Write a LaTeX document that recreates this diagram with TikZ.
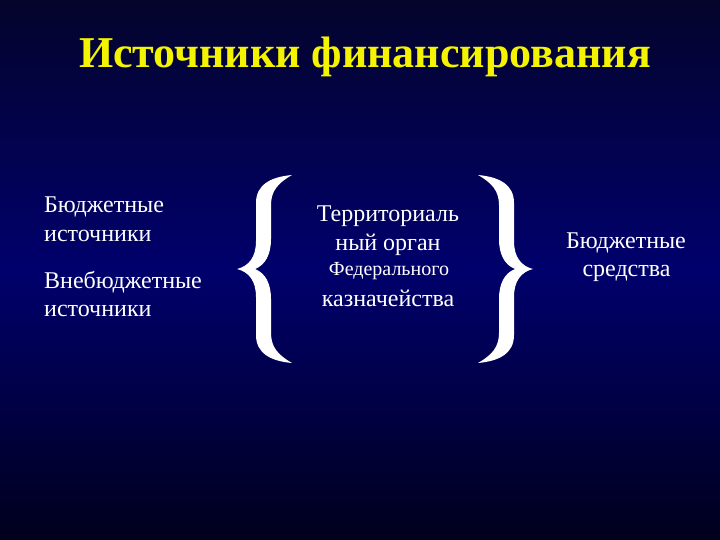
\documentclass[tikz,border=0pt]{standalone}
\usepackage{fontspec}
\setmainfont{Liberation Serif}
\usetikzlibrary{positioning}

\definecolor{bgtop}{HTML}{04042C}
\definecolor{bgmid}{HTML}{00006C}
\definecolor{bgbot}{HTML}{00001C}
\definecolor{titleyellow}{HTML}{F4F400}

% one curly brace, middle tip at the origin, opening to the right
\newcommand{\bracepath}{%
  (55,94) .. controls (33,92) and (19,84) .. (19,66)
  -- (19,28) .. controls (19,12) and (12,3) .. (0,0)
  .. controls (12,-3) and (19,-12) .. (19,-28)
  -- (19,-66) .. controls (19,-84) and (33,-92) .. (55,-94)
  .. controls (41,-86) and (34,-78) .. (34,-64)
  -- (34,-30) .. controls (34,-14) and (28,-4) .. (18,0)
  .. controls (28,4) and (34,14) .. (34,30)
  -- (34,64) .. controls (34,78) and (41,86) .. (55,94) -- cycle}

\begin{document}
\begin{tikzpicture}[x=1pt,y=-1pt,
  title/.style={font=\fontsize{44}{50}\selectfont\bfseries,text=titleyellow,inner sep=0pt,anchor=base},
  txt/.style={font=\fontsize{24}{28}\selectfont,text=white,inner sep=0pt,anchor=base},
  small txt/.style={txt,font=\fontsize{20}{24}\selectfont},
  brace/.style={fill=white,draw=none}]

\begin{scope}[y=1pt]
  \shade[top color=bgtop,bottom color=bgbot,middle color=bgmid] (0,-540) rectangle (720,0);
\end{scope}
\useasboundingbox (0,0) rectangle (720,540);

% title
\node[title] (head) at (365,68) {Источники финансирования};

% sources
\node[txt,anchor=base west] (bud) at (44,212) {Бюджетные};
\node[txt,anchor=base west] (budsrc) at (44,241.5) {источники};
\node[txt,anchor=base west] (extra) at (44,288) {Внебюджетные};
\node[txt,anchor=base west] (extrasrc) at (44,316.5) {источники};

% braces
\fill[brace,shift={(237,269)}] \bracepath;
\fill[brace,shift={(533,269)},xscale=-1] \bracepath;

% treasury
\node[txt] (terr) at (388,221.5) {Территориаль};
\node[txt] (organ) at (388,250) {ный орган};
\node[small txt] (fed) at (389,275) {Федерального};
\node[txt] (treas) at (388,306.5) {казначейства};

% result
\node[txt] (funds) at (626,248.5) {Бюджетные};
\node[txt] (fundsb) at (626.5,276.5) {средства};
\end{tikzpicture}
\end{document}
